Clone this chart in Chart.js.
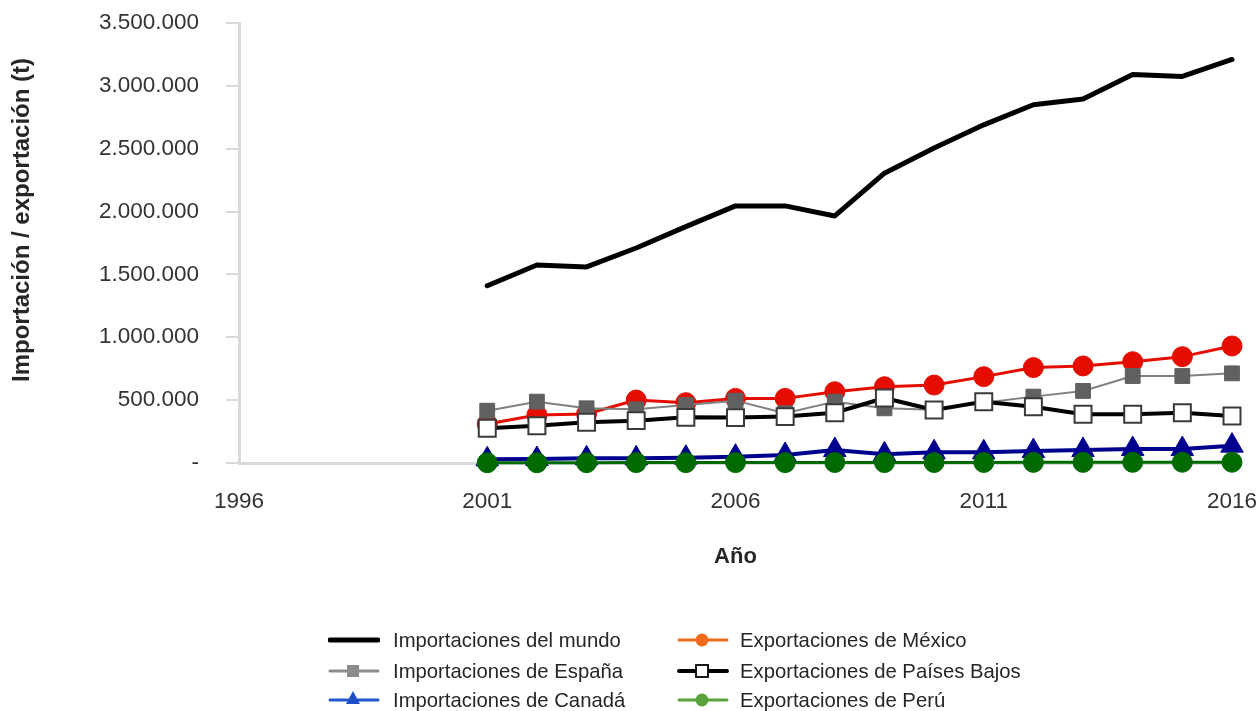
<!DOCTYPE html>
<html>
<head>
<meta charset="utf-8">
<script src="https://cdn.jsdelivr.net/npm/chart.js@4.4.1/dist/chart.umd.min.js"></script>
<style>
  html, body { margin: 0; padding: 0; background: #ffffff; }
  #wrap { position: relative; width: 1257px; height: 711px; overflow: hidden; }
  #c { position: absolute; left: 0; top: 0; }
  .lg { position: absolute; height: 24px; line-height: 24px; font-family: "Liberation Sans", Arial, sans-serif; font-size: 20.3px; color: #262626; white-space: nowrap; }
  .lg svg { position: absolute; top: 0; left: 0; }
</style>
</head>
<body>
<div id="wrap">
  <canvas id="c" width="1257" height="711"></canvas>
  <div id="legend"></div>
</div>
<script>
// ---- data (tonnes) ----
const years = [2001, 2002, 2003, 2004, 2005, 2006, 2007, 2008, 2009, 2010, 2011, 2012, 2013, 2014, 2015, 2016];
const importsWorld   = [1410000, 1575000, 1560000, 1710000, 1880000, 2045000, 2045000, 1965000, 2305000, 2505000, 2690000, 2850000, 2895000, 3090000, 3075000, 3210000];
const importsSpain   = [416000, 488000, 435000, 427000, 461000, 496000, 395000, 488000, 435000, 424000, 480000, 528000, 573000, 692000, 692000, 713000];
const importsCanada  = [29000, 32000, 37000, 37000, 42000, 50000, 64000, 103000, 69000, 85000, 85000, 95000, 103000, 111000, 111000, 138000];
const exportsMexico  = [310000, 382000, 390000, 501000, 480000, 514000, 514000, 567000, 607000, 620000, 687000, 759000, 772000, 806000, 846000, 931000];
const exportsNL      = [276000, 297000, 324000, 337000, 363000, 361000, 369000, 400000, 517000, 422000, 488000, 448000, 387000, 387000, 400000, 374000];
const exportsPeru    = [2000, 2000, 2500, 3000, 3000, 3500, 3000, 4000, 3500, 4000, 4500, 5000, 5000, 5500, 6000, 6000];
const xTicks = [1996, 2001, 2006, 2011, 2016];
const yMax = 3500000, yStep = 500000;
const yTitle = 'Importación / exportación (t)';
const xTitle = 'Año';

const FONT = '"Liberation Sans", Arial, sans-serif';
const pts = arr => arr.map((v, i) => ({ x: years[i], y: v }));

const series = [
  { label: 'Importaciones del mundo', data: importsWorld, color: '#000000', width: 5, style: false, radius: 0, fill: '#000', border: '#000', order: 0,
    lg: { line: '#000000', lw: 5, marker: null } },
  { label: 'Importaciones de España', data: importsSpain, color: '#808080', width: 2, style: 'rect', radius: 10.5, fill: '#606060', border: '#606060', order: 4,
    lg: { line: '#8c8c8c', lw: 3, marker: 'rect', mfill: '#8c8c8c', mstroke: '#8c8c8c' } },
  { label: 'Importaciones de Canadá', data: importsCanada, color: '#00008e', width: 4, style: 'triangle', radius: 13, fill: '#00008e', border: '#00008e', order: 2,
    lg: { line: '#2257cf', lw: 3, marker: 'triangle', mfill: '#1f4fc6', mstroke: '#1f4fc6' } },
  { label: 'Exportaciones de México', data: exportsMexico, color: '#e40d00', width: 3, style: 'circle', radius: 10, fill: '#e40d00', border: '#e40d00', order: 5,
    lg: { line: '#ee6b1c', lw: 3, marker: 'circle', mfill: '#ee6b1c', mstroke: '#ee6b1c' } },
  { label: 'Exportaciones de Países Bajos', data: exportsNL, color: '#000000', width: 4, style: 'rect', radius: 12, fill: '#ffffff', border: '#3a3a3a', order: 3,
    lg: { line: '#000000', lw: 4, marker: 'rect', mfill: '#ffffff', mstroke: '#000000' } },
  { label: 'Exportaciones de Perú', data: exportsPeru, color: '#006a00', width: 3, style: 'circle', radius: 10, fill: '#006a00', border: '#006a00', order: 1,
    lg: { line: '#58a33a', lw: 3, marker: 'circle', mfill: '#58a33a', mstroke: '#58a33a' } }
];

const datasets = series.map(s => ({
  label: s.label,
  data: pts(s.data),
  borderColor: s.color,
  borderWidth: s.width,
  backgroundColor: s.fill,
  pointStyle: s.style,
  pointRadius: s.radius,
  pointHoverRadius: s.radius,
  pointBackgroundColor: s.fill,
  pointBorderColor: s.border,
  pointBorderWidth: s.style === 'rect' && s.fill === '#ffffff' ? 2 : 1,
  borderJoinStyle: 'round',
  borderCapStyle: 'round',
  tension: 0,
  fill: false,
  clip: false,
  order: s.order
}));

const fmt = v => v === 0 ? '-' : String(v).replace(/\B(?=(\d{3})+(?!\d))/g, '.');

const yTitlePlugin = {
  id: 'yTitlePlugin',
  afterDraw(chart) {
    const ctx = chart.ctx;
    ctx.save();
    ctx.translate(22, 220);
    ctx.rotate(-Math.PI / 2);
    ctx.font = 'bold 24px ' + FONT;
    ctx.fillStyle = '#262626';
    ctx.textAlign = 'center';
    ctx.textBaseline = 'middle';
    ctx.fillText(yTitle, 0, 0);
    ctx.restore();
  }
};

new Chart(document.getElementById('c'), {
  type: 'line',
  data: { datasets },
  plugins: [yTitlePlugin],
  options: {
    responsive: false,
    animation: false,
    devicePixelRatio: 1,
    layout: { padding: { left: 8, top: 23, right: 25, bottom: 141 } },
    plugins: { legend: { display: false }, tooltip: { enabled: false }, title: { display: false } },
    scales: {
      x: {
        type: 'linear',
        min: 1996, max: 2016,
        afterBuildTicks: axis => { axis.ticks = xTicks.map(v => ({ value: v })); },
        afterFit: s => { s.height = 107; s.paddingLeft = 0; s.paddingRight = 0; },
        grid: { display: false },
        border: { display: true, color: '#d9d9d9', width: 3 },
        ticks: { padding: 17, color: '#333333', font: { family: FONT, size: 22.5 }, callback: v => String(v), maxRotation: 0, autoSkip: false },
        title: { display: true, text: xTitle, color: '#262626', font: { family: FONT, size: 22, weight: 'bold' }, padding: 0 }
      },
      y: {
        min: 0, max: yMax,
        afterFit: s => { s.width = 231; s.paddingTop = 0; s.paddingBottom = 0; },
        grid: { display: true, drawOnChartArea: false, drawTicks: true, tickLength: 13, color: '#d9d9d9', lineWidth: 2 },
        border: { display: true, color: '#d9d9d9', width: 3 },
        ticks: { stepSize: yStep, padding: 27, color: '#333333', font: { family: FONT, size: 22.5 }, callback: v => fmt(v) }
      }
    }
  }
});

// ---- HTML legend (two columns, three rows) ----
const lgPos = [
  { x: 328, tx: 393, y: 640 }, { x: 328, tx: 393, y: 671 }, { x: 328, tx: 393, y: 700 },
  { x: 677, tx: 740, y: 640 }, { x: 677, tx: 740, y: 671 }, { x: 677, tx: 740, y: 700 }
];
const legend = document.getElementById('legend');
series.forEach((s, i) => {
  const p = lgPos[i];
  const g = s.lg;
  let marker = '';
  if (g.marker === 'rect') marker = `<rect x="19" y="6" width="12" height="12" fill="${g.mfill}" stroke="${g.mstroke}" stroke-width="${g.mfill === '#ffffff' ? 1.8 : 0}"/>`;
  if (g.marker === 'circle') marker = `<circle cx="25" cy="12" r="6.5" fill="${g.mfill}"/>`;
  if (g.marker === 'triangle') marker = `<polygon points="25,3 32,16 18,16" fill="${g.mfill}"/>`;
  const sym = document.createElement('div');
  sym.className = 'lg';
  sym.style.left = p.x + 'px';
  sym.style.top = (p.y - 12) + 'px';
  sym.style.width = '52px';
  sym.innerHTML = `<svg width="52" height="24"><line x1="2" y1="12" x2="50" y2="12" stroke="${g.line}" stroke-width="${g.lw}" stroke-linecap="round"/>${marker}</svg>`;
  legend.appendChild(sym);
  const t = document.createElement('div');
  t.className = 'lg';
  t.style.left = p.tx + 'px';
  t.style.top = (p.y - 12) + 'px';
  t.textContent = s.label;
  legend.appendChild(t);
});
</script>
</body>
</html>
